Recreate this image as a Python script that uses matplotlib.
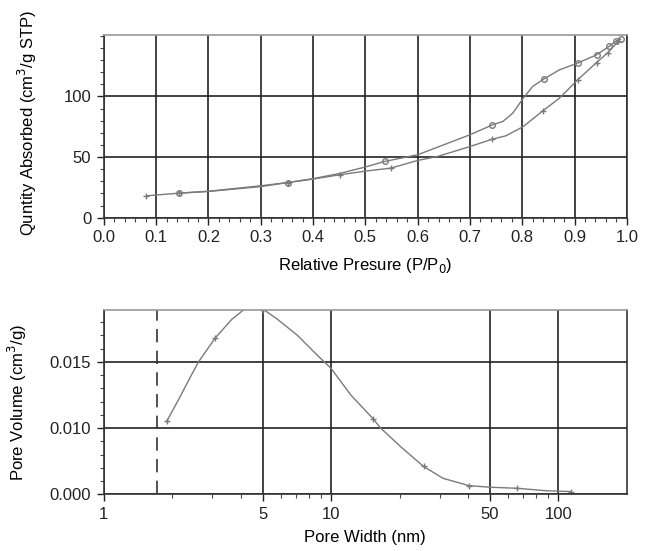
import matplotlib.pyplot as plt
from matplotlib.ticker import FixedLocator, FixedFormatter, MultipleLocator, NullFormatter, FormatStrFormatter

plt.rcParams['font.family'] = ['Liberation Sans', 'DejaVu Sans']

# isotherm, adsorption branch (lower loop, + markers)
ads_p = [0.081, 0.143, 0.20, 0.30, 0.352, 0.40, 0.451, 0.50, 0.549, 0.60, 0.638, 0.70, 0.743, 0.769, 0.802,
         0.840, 0.871, 0.906, 0.942, 0.964, 0.983]
ads_q = [18.0, 20.2, 21.6, 25.6, 29.0, 31.8, 35.4, 38.4, 40.9, 47.2, 50.5, 58.7, 64.8, 67.6, 75.2,
         88.4, 98.6, 113.8, 128.0, 136.3, 145.4]
ads_mark_p = [0.081, 0.143, 0.352, 0.451, 0.549, 0.743, 0.840, 0.906, 0.942, 0.964, 0.983]
ads_mark_q = [18.0, 20.2, 29.0, 35.4, 40.9, 64.8, 88.4, 113.8, 128.0, 136.3, 145.4]

# isotherm, desorption branch (upper loop, open circles)
des_p = [0.988, 0.980, 0.966, 0.942, 0.906, 0.871, 0.841, 0.820, 0.802, 0.782, 0.763, 0.743, 0.70, 0.60,
         0.537, 0.50, 0.45, 0.40, 0.352, 0.30, 0.20, 0.143]
des_q = [147.4, 146.0, 141.3, 134.4, 127.6, 122.0, 114.4, 108.3, 98.7, 86.3, 79.4, 76.6, 68.4, 51.9,
         46.4, 41.8, 36.4, 32.2, 29.0, 26.3, 21.8, 20.2]
des_mark_p = [0.988, 0.980, 0.966, 0.942, 0.906, 0.841, 0.743, 0.537, 0.352, 0.143]
des_mark_q = [147.4, 146.0, 141.3, 134.4, 127.6, 114.4, 76.6, 46.4, 29.0, 20.2]

# pore size distribution
pore_w = [1.89, 2.14, 2.41, 2.61, 3.09, 3.65, 4.17, 5.0, 5.82, 7.11, 8.69, 10.0, 12.2, 15.3, 16.5,
          20.2, 25.5, 31.1, 40.4, 50.0, 65.9, 87.5, 113.5]
pore_v = [0.0105, 0.0122, 0.0139, 0.0150, 0.0168, 0.0182, 0.0190, 0.0190, 0.0182, 0.0170, 0.0155, 0.0145,
          0.0125, 0.0107, 0.0100, 0.0086, 0.0071, 0.0062, 0.00565, 0.00553, 0.00545, 0.00527, 0.0052]
pore_mark_w = [1.89, 3.09, 5.0, 15.3, 25.5, 40.4, 65.9, 113.5]
pore_mark_v = [0.0105, 0.0168, 0.0189, 0.0107, 0.0071, 0.00565, 0.00545, 0.0052]
cutoff_w = 1.72

y_ticks_psd = [0.005, 0.010, 0.015]
y_labels_psd = ['0.000', '0.010', '0.015']

line_c = '#7a7a7a'
grid_c = '#222222'

fig = plt.figure(figsize=(6.53, 5.51), dpi=100)
ax1 = fig.add_axes([0.159, 0.605, 0.801, 0.332])
ax2 = fig.add_axes([0.159, 0.103, 0.801, 0.334])

# top panel
ax1.plot(ads_p, ads_q, color=line_c, lw=1.0)
ax1.plot(ads_mark_p, ads_mark_q, '+', color=line_c, ms=5, mew=1.0)
ax1.plot(des_p, des_q, color=line_c, lw=1.0)
ax1.plot(des_mark_p, des_mark_q, 'o', mfc='none', mec=line_c, ms=4, mew=1.0)
ax1.set_xlim(0, 1.0)
ax1.set_ylim(0, 151)
ax1.xaxis.set_major_locator(MultipleLocator(0.1))
ax1.xaxis.set_minor_locator(MultipleLocator(0.02))
ax1.xaxis.set_major_formatter(FormatStrFormatter('%.1f'))
ax1.yaxis.set_major_locator(FixedLocator([0, 50, 100]))
ax1.yaxis.set_minor_locator(MultipleLocator(10))
ax1.set_xlabel('Relative Presure (P/P$_0$)', fontsize=12, labelpad=8)
ax1.set_ylabel('Quntity Absorbed (cm$^3$/g STP)', fontsize=12)
ax1.yaxis.set_label_coords(-0.124, 0.52)

# bottom panel
ax2.plot(pore_w, pore_v, color=line_c, lw=1.0, clip_on=True)
ax2.plot(pore_mark_w, pore_mark_v, '+', color=line_c, ms=5, mew=1.0)
ax2.axvline(cutoff_w, color='#333333', lw=1.2, ls=(0, (8, 5)))
ax2.set_xscale('log')
ax2.set_xlim(1, 200)
ax2.set_ylim(0.005, 0.0189)
ax2.xaxis.set_major_locator(FixedLocator([1, 5, 10, 50, 100]))
ax2.xaxis.set_major_formatter(FixedFormatter(['1', '5', '10', '50', '100']))
ax2.xaxis.set_minor_locator(FixedLocator([2, 3, 4, 6, 7, 8, 9, 20, 30, 40, 60, 70, 80, 90]))
ax2.xaxis.set_minor_formatter(NullFormatter())
ax2.yaxis.set_major_locator(FixedLocator(y_ticks_psd))
ax2.yaxis.set_major_formatter(FixedFormatter(y_labels_psd))
ax2.yaxis.set_minor_locator(MultipleLocator(0.001))
ax2.set_xlabel('Pore Width (nm)', fontsize=12, labelpad=6)
ax2.set_ylabel('Pore Volume (cm$^3$/g)', fontsize=12)
ax2.yaxis.set_label_coords(-0.143, 0.5)

for ax in (ax1, ax2):
    ax.grid(True, which='major', color=grid_c, lw=1.2)
    ax.set_axisbelow(True)
    ax.tick_params(which='major', direction='out', length=5, width=1, labelsize=12, colors='#222222', pad=4)
    ax.tick_params(which='minor', direction='out', length=3, width=0.8, colors='#444444')
    for s in ax.spines.values():
        s.set_color('#333333')
        s.set_linewidth(1.2)
    ax.spines['top'].set_color('#999999')

fig.savefig('out.png', dpi=100)
